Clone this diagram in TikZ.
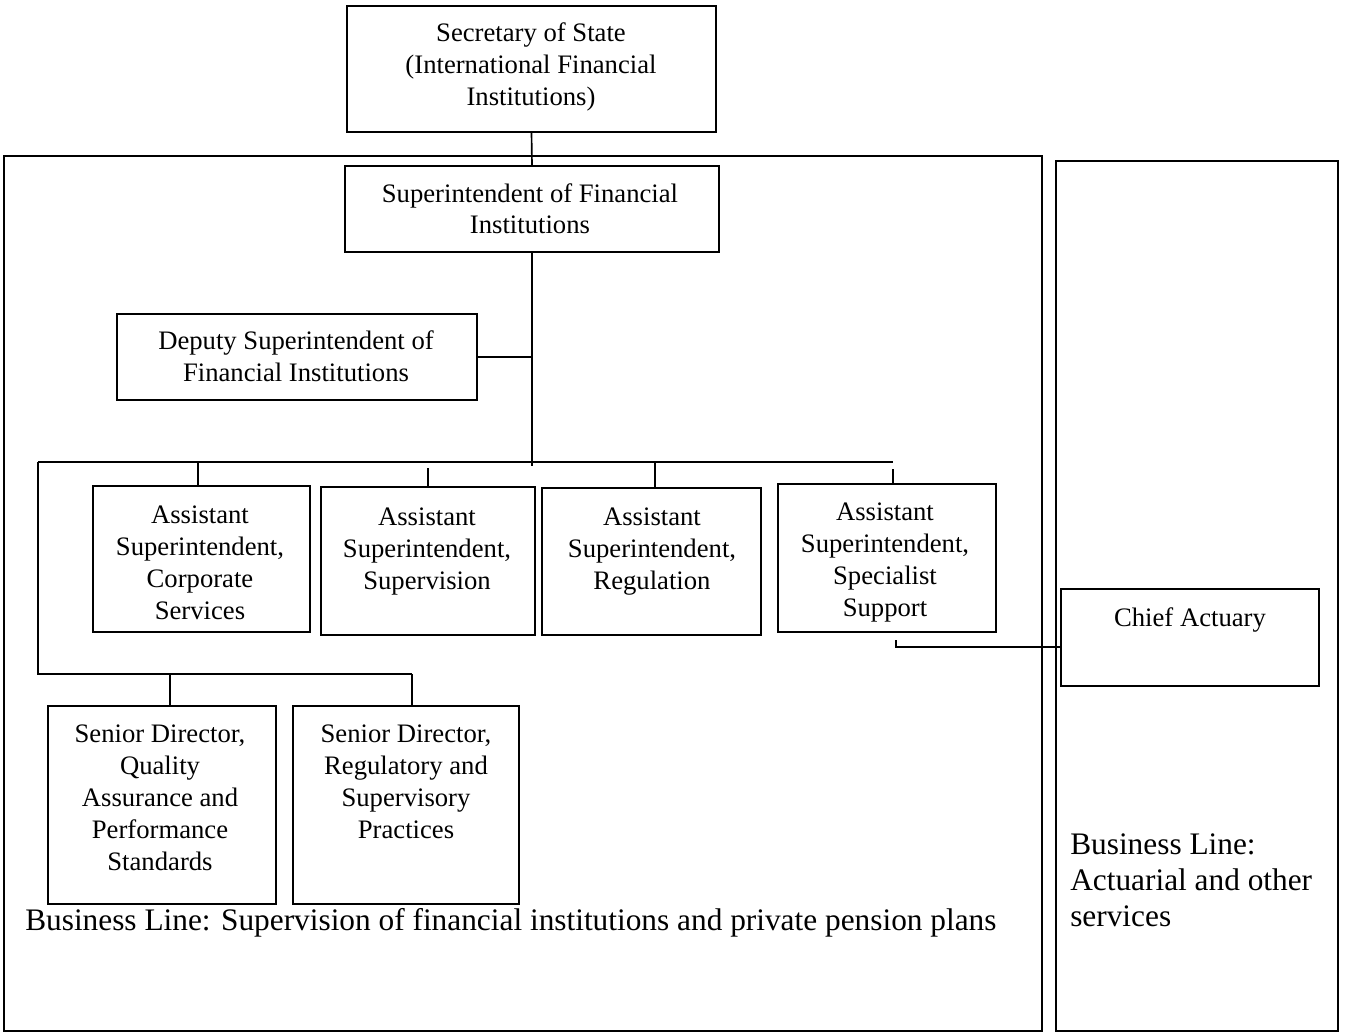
\documentclass[tikz,border=0pt]{standalone}
\usepackage{fontspec}
\setmainfont{Liberation Serif}
\usetikzlibrary{fit}
\begin{document}
\begin{tikzpicture}[x=0.75pt,y=-0.75pt,
  box/.style={draw,line width=1.25pt,inner sep=0pt},
  frame/.style={draw,line width=1.25pt,inner sep=0pt},
  txt/.style={align=center,inner sep=0pt,font=\fontsize{20pt}{24pt}\selectfont},
  bigtxt/.style={align=left,inner sep=0pt,font=\fontsize{23.5pt}{27pt}\selectfont},
  conn/.style={line width=1.25pt}]
\useasboundingbox (0,0) rectangle (1345,1034);
% frames
\node[frame,fit={(4,156)(1042,1031)}] (leftframe) {};
\node[frame,fit={(1056,161)(1338,1031)}] (rightframe) {};
% boxes
\node[box,fill=white,fit={(347,6)(716,132)}] (sec) {};
\node[box,fill=white,fit={(345,166)(719,252)}] (sup) {};
\node[box,fit={(117,314)(477,400)}] (dep) {};
\node[box,fit={(93,486)(310,632)}] (a) {};
\node[box,fit={(321,487)(535,635)}] (b) {};
\node[box,fit={(542,488)(761,635)}] (c) {};
\node[box,fit={(778,484)(996,632)}] (d) {};
\node[box,fit={(48,706)(276,904)}] (e) {};
\node[box,fit={(293,706)(519,904)}] (f) {};
\node[box,fit={(1061,589)(1319,686)}] (chief) {};
% texts (anchor base = baseline of last line)
\node[txt,anchor=base] (secT) at (531,106) {Secretary of State\\(International Financial\\Institutions)};
\node[txt,anchor=base] (supT) at (530,234) {Superintendent of Financial\\Institutions};
\node[txt,anchor=base] (depT) at (296,381) {Deputy Superintendent of\\Financial Institutions};
\node[txt,anchor=base] (aT) at (200,619) {Assistant\\Superintendent,\\Corporate\\Services};
\node[txt,anchor=base] (bT) at (427,589) {Assistant\\Superintendent,\\Supervision};
\node[txt,anchor=base] (cT) at (652,589) {Assistant\\Superintendent,\\Regulation};
\node[txt,anchor=base] (dT) at (885,616) {Assistant\\Superintendent,\\Specialist\\Support};
\node[txt,anchor=base] (eT) at (160,870) {Senior Director,\\Quality\\Assurance and\\Performance\\Standards};
\node[txt,anchor=base] (fT) at (406,838) {Senior Director,\\Regulatory and\\Supervisory\\Practices};
\node[txt,anchor=base] (chiefT) at (1190,626) {Chief Actuary};
\node[bigtxt,anchor=base west] (blS) at (25,930) {Business Line: Supervision of financial institutions and private pension plans};
\node[bigtxt,anchor=base west] (blA) at (1070,926) {Business Line:\\Actuarial and other\\services};
% connector points
\coordinate (hub) at (530,466);
\coordinate (bl) at (38,462);
\coordinate (br) at (893,462);
\coordinate (bb) at (38,674);
\coordinate (bbr) at (412,674);
\coordinate (ds) at (896,640);
\coordinate (cj) at (1061,647);
% connectors
\draw[conn] (sec.south) -- (sup.north);
\draw[conn] (sup.south) -- (sup.south |- hub);
\draw[conn] (dep.east) -- (dep.east -| sup.south);
\draw[conn] (bl) -- (br);
\draw[conn] (bl) -- (bb) -- (bbr);
\draw[conn] (198,462) -- (198,486);
\draw[conn] (428,468) -- (b.north -| 428,0);
\draw[conn] (655,462) -- (c.north -| 655,0);
\draw[conn] (893,469) -- (d.north -| 893,0);
\draw[conn] (170,674) -- (e.north -| 170,0);
\draw[conn] (bbr) -- (f.north -| bbr);
\draw[conn] (ds) |- (cj);
\end{tikzpicture}
\end{document}
